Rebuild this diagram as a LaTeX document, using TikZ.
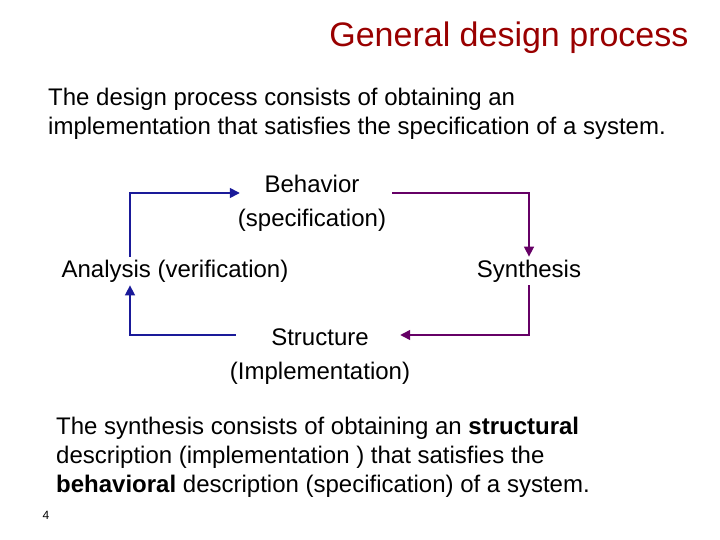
\documentclass[tikz,border=0pt]{standalone}
\usepackage{fontspec}
\setmainfont{Liberation Sans}
\usetikzlibrary{arrows.meta}
\definecolor{titlered}{RGB}{153,0,0}
\definecolor{loopblue}{RGB}{26,26,153}
\definecolor{looppurple}{RGB}{102,0,102}

\begin{document}
\begin{tikzpicture}[x=1pt, y=-1pt,
    txt/.style={font=\fontsize{24}{29}\selectfont, align=left, inner sep=0pt},
    box/.style={font=\fontsize{24}{34}\selectfont, align=center, inner sep=3pt},
    bluearrow/.style={draw=loopblue, line width=1.5pt, -{Triangle[length=10pt,width=10pt]}},
    purplearrow/.style={draw=looppurple, line width=1.5pt, -{Triangle[length=10pt,width=10pt]}}]
    \useasboundingbox (0,0) rectangle (720,540);

    \node[anchor=base east, text=titlered, font=\fontsize{34}{40}\selectfont] (title) at (692,47) {General design process};

    \node[txt, anchor=north west] (intro) at (48,88) {The design process consists of obtaining an\\implementation that satisfies the specification of a system.};

    % the loop
    \node[box] (beh) at (312,203) {Behavior\\(specification)};
    \node[box] (ana) at (175,271) {Analysis (verification)};
    \node[box] (syn) at (529,271) {Synthesis};
    \node[box] (str) at (320,357) {Structure\\(Implementation)};
    \coordinate (lc) at (130,0);

    \draw[bluearrow] (ana.north -| lc) |- ([xshift=5pt,yshift=10pt]beh.west);
    \draw[purplearrow] ([xshift=3pt,yshift=10pt]beh.east) -| (syn.north);
    \draw[purplearrow] (syn.south) |- ([xshift=-13pt,yshift=22pt]str.east);
    \draw[bluearrow] ([xshift=9pt,yshift=22pt]str.west) -| (ana.south -| lc);

    \node[txt, anchor=north west] (note) at (56,417) {The synthesis consists of obtaining an \textbf{structural}\\description (implementation ) that satisfies the\\\textbf{behavioral} description (specification) of a system.};

    \node[font=\fontsize{12}{14}\selectfont] (pagenum) at (46,515) {4};
\end{tikzpicture}
\end{document}
